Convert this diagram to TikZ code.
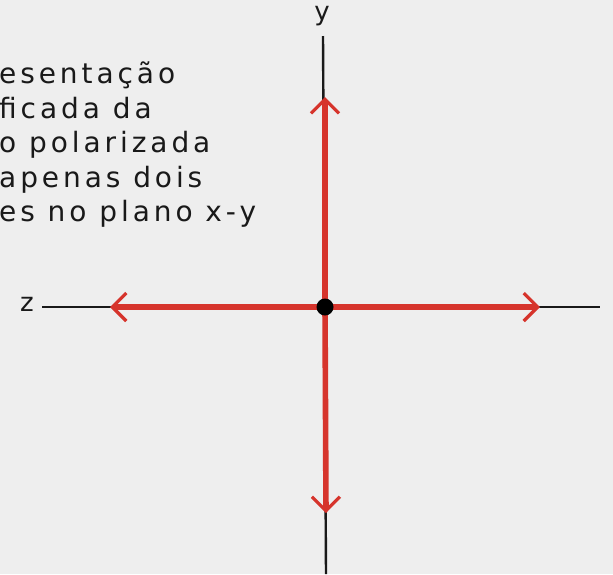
\documentclass[tikz,border=0pt]{standalone}
\usepackage{fontspec}
\setmainfont{DejaVu Sans}
\usepackage{xcolor}
\usetikzlibrary{arrows.meta,positioning}
\definecolor{bgrey}{RGB}{238,238,238}
\definecolor{penred}{RGB}{214,52,44}
\definecolor{ink}{RGB}{25,25,25}

\begin{document}
\begin{tikzpicture}[
    x=1pt,y=-1pt,
    axis/.style={draw=ink, line width=2.4pt},
    field/.style={draw=penred, line width=5.6pt,
                  -{Straight Barb[length=14pt, width=28pt, line width=3.2pt]}},
    lbl/.style={font=\fontsize{26}{26}\selectfont, text=ink, inner sep=0pt},
    txt/.style={font=\fontsize{28}{34.5}\selectfont\addfontfeature{LetterSpace=14},
                text=ink, align=left, inner sep=0pt}
]
% Background and frame
\fill[bgrey] (0,0) rectangle (613,574);
\useasboundingbox (0,0) rectangle (613,574);

% Axes
\coordinate (zend) at (42,307);
\coordinate (rend) at (600,307);
\coordinate (ytop) at (323,36);
\coordinate (ybot) at (326,574);
\node[lbl] (zlab) at (27,304) {z};
\node[lbl] (ylab) at (322,16) {y};
\draw[axis] (zend) -- (rend);
\draw[axis] (ytop) -- (ybot);

% Two field components through the origin
\coordinate (c) at (325,307);
\coordinate (left) at (110,307);
\coordinate (right) at (540,307);
\coordinate (up) at (325,97);
\coordinate (down) at (326,513);
\draw[field] (c) -- (left);
\draw[field] (c) -- (right);
\draw[field] (c) -- (up);
\draw[field] (c) -- (down);
\node[circle, fill=black, minimum size=17pt, inner sep=0pt] (o) at (c) {};

% Caption text
\node[txt, anchor=north west] (desc) at (-1,62)
  {esentação\\ficada da\\o polarizada\\apenas dois\\es no plano x-y};
\end{tikzpicture}
\end{document}
